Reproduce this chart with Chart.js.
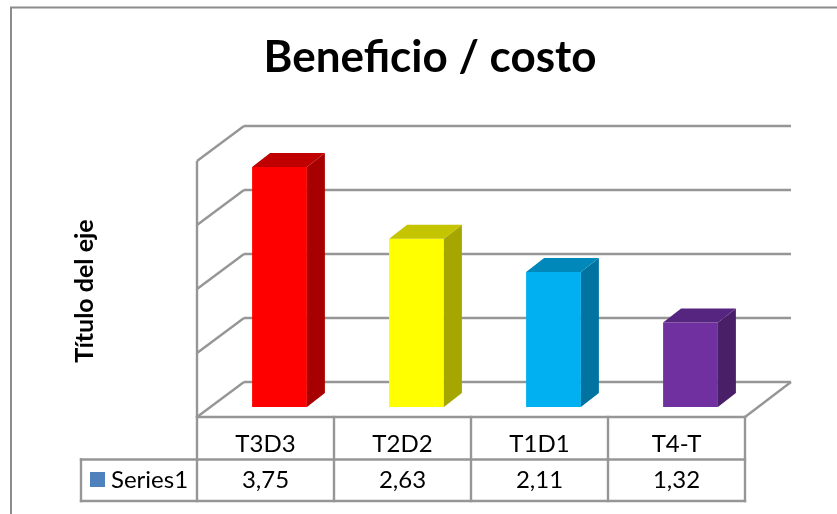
<!DOCTYPE html>
<html>
<head>
<meta charset="utf-8">
<style>html,body{margin:0;padding:0;background:#fff}canvas{display:block}</style>
<script src="https://cdn.jsdelivr.net/npm/chart.js@4"></script>
</head>
<body>
<div style="width:837px;height:514px"><canvas id="c" width="837" height="514"></canvas></div>
<script>
const categories = ['T3D3', 'T2D2', 'T1D1', 'T4-T'];
const seriesName = 'Series1';
const values = [3.75, 2.63, 2.11, 1.32];
const valueLabels = ['3,75', '2,63', '2,11', '1,32'];
const frontColors = ['#FF0000', '#FFFF00', '#00B0F0', '#7030A0'];
const sideColors = ['#A60000', '#A6A600', '#0073A0', '#491F68'];
const topColors = ['#C00000', '#C4C400', '#0088BB', '#562580'];
const yTicks = [0, 1, 2, 3, 4];
const chartTitle = 'Beneficio / costo';
const axisTitle = 'Título del eje';

const LINE = '#969696';
const FONT = 'Lato, Carlito, sans-serif';
const DEPTH = { dx: 18, dy: -14 };
const WALL = { frontX: -14, frontY: 10, backX: 32, backY: -25 };
const TABLE = { left: 81, midY: 459.5, bottomY: 501 };

function seg(ctx, x1, y1, x2, y2) {
  ctx.beginPath(); ctx.moveTo(x1, y1); ctx.lineTo(x2, y2); ctx.stroke();
}

const scene = {
  id: 'scene',
  beforeDraw(chart) {
    const ctx = chart.ctx;
    ctx.save();
    ctx.strokeStyle = '#8c8c8c';
    ctx.lineWidth = 2;
    seg(ctx, 11, 514, 11, 7.5);
    seg(ctx, 10, 7.5, 837, 7.5);
    ctx.fillStyle = '#000';
    ctx.textAlign = 'center';
    ctx.textBaseline = 'middle';
    ctx.font = 'bold 44px ' + FONT;
    ctx.fillText(chartTitle, 430, 58);
    ctx.font = 'bold 25px ' + FONT;
    ctx.translate(85, 291);
    ctx.rotate(-Math.PI / 2);
    ctx.fillText(axisTitle, 0, 0);
    ctx.restore();
  },
  beforeDatasetsDraw(chart) {
    const { ctx, chartArea: a, scales: { y } } = chart;
    const fl = a.left + WALL.frontX, fr = a.right + WALL.frontX;
    const bl = a.left + WALL.backX + 1, br = a.right + WALL.backX;
    ctx.save();
    ctx.strokeStyle = LINE;
    ctx.lineWidth = 2.4;
    ctx.lineCap = 'butt';
    yTicks.forEach(v => {
      const p = y.getPixelForValue(v);
      seg(ctx, fl, p + WALL.frontY, bl, p + WALL.backY);
      seg(ctx, bl, p + WALL.backY, br, p + WALL.backY);
    });
    const p0 = y.getPixelForValue(0);
    seg(ctx, fr, p0 + WALL.frontY, br, p0 + WALL.backY);
    seg(ctx, fl, y.getPixelForValue(4) + WALL.frontY, fl, p0 + WALL.frontY);
    ctx.restore();
  },
  afterDatasetsDraw(chart) {
    const { ctx, chartArea: a, scales: { x, y } } = chart;
    const bars = chart.getDatasetMeta(0).data;
    ctx.save();
    bars.forEach((b, i) => {
      const l = b.x - b.width / 2, r = b.x + b.width / 2;
      ctx.fillStyle = sideColors[i];
      ctx.beginPath();
      ctx.moveTo(r, b.y); ctx.lineTo(r + DEPTH.dx, b.y + DEPTH.dy);
      ctx.lineTo(r + DEPTH.dx, b.base + DEPTH.dy); ctx.lineTo(r, b.base);
      ctx.closePath(); ctx.fill();
      ctx.fillStyle = topColors[i];
      ctx.beginPath();
      ctx.moveTo(l, b.y); ctx.lineTo(l + DEPTH.dx, b.y + DEPTH.dy);
      ctx.lineTo(r + DEPTH.dx, b.y + DEPTH.dy); ctx.lineTo(r, b.y);
      ctx.closePath(); ctx.fill();
    });
    // data table
    const fl = a.left + WALL.frontX, fr = a.right + WALL.frontX;
    const top = y.getPixelForValue(0) + WALL.frontY;
    const step = (fr - fl) / categories.length;
    ctx.strokeStyle = LINE;
    ctx.lineWidth = 2.4;
    ctx.lineCap = 'square';
    seg(ctx, fl, top, fr, top);
    seg(ctx, TABLE.left, TABLE.midY, fr, TABLE.midY);
    seg(ctx, TABLE.left, TABLE.bottomY, fr, TABLE.bottomY);
    seg(ctx, TABLE.left, TABLE.midY, TABLE.left, TABLE.bottomY);
    for (let i = 0; i <= categories.length; i++) {
      seg(ctx, fl + step * i, top, fl + step * i, TABLE.bottomY);
    }
    ctx.fillStyle = '#4F81BD';
    ctx.fillRect(90, 472, 15, 15);
    ctx.fillStyle = '#000';
    ctx.font = '24px ' + FONT;
    ctx.textBaseline = 'middle';
    ctx.textAlign = 'left';
    ctx.fillText(seriesName, 111, 480);
    ctx.textAlign = 'center';
    valueLabels.forEach((t, i) => {
      ctx.fillText(t, x.getPixelForTick(i) + WALL.frontX, 480);
    });
    ctx.restore();
  }
};

new Chart(document.getElementById('c'), {
  type: 'bar',
  data: {
    labels: categories,
    datasets: [{
      label: seriesName,
      data: values,
      backgroundColor: frontColors,
      borderWidth: 0,
      barPercentage: 0.4,
      categoryPercentage: 1
    }]
  },
  plugins: [scene],
  options: {
    responsive: false,
    animation: false,
    layout: { padding: { left: 211, right: 78, top: 151, bottom: 0 } },
    plugins: { legend: { display: false }, title: { display: false }, tooltip: { enabled: false } },
    scales: {
      x: {
        grid: { display: false },
        border: { display: false },
        afterFit(s) { s.height = 107; },
        ticks: {
          color: '#000',
          font: { family: FONT, size: 24 },
          padding: 15,
          labelOffset: WALL.frontX,
          maxRotation: 0,
          autoSkip: false
        }
      },
      y: {
        display: false,
        min: 0,
        max: 4,
        afterBuildTicks(s) { s.ticks = yTicks.map(v => ({ value: v })); }
      }
    }
  }
});
</script>
</body>
</html>
